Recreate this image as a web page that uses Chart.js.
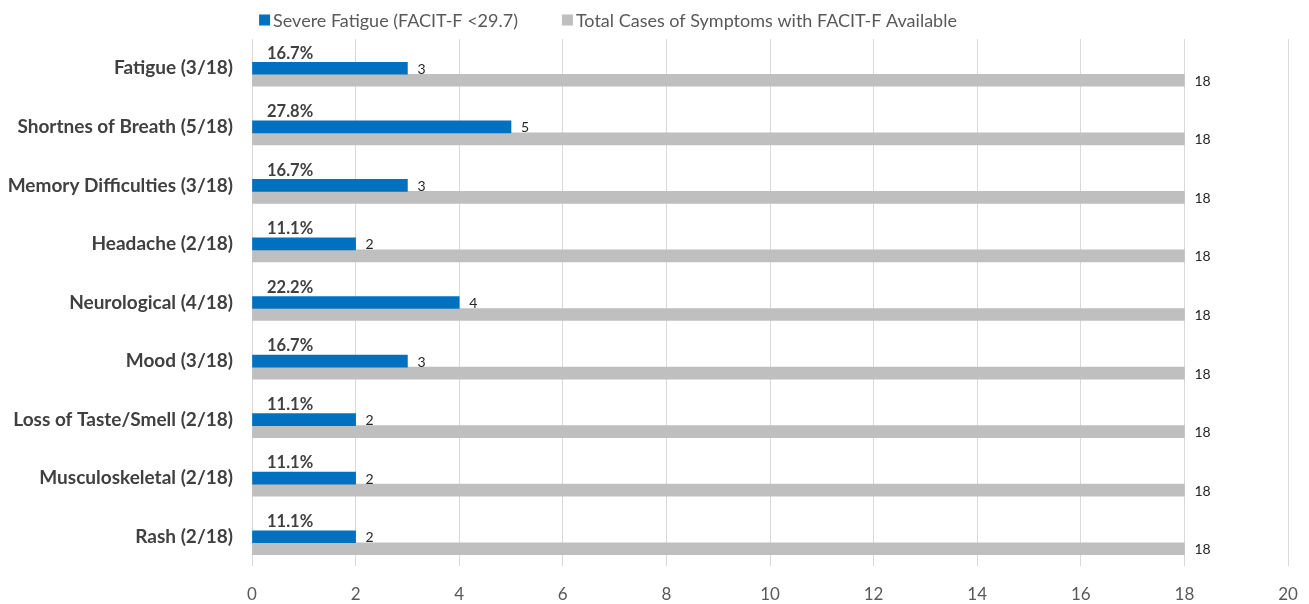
<!DOCTYPE html>
<html>
<head>
<meta charset="utf-8">
<script src="https://cdn.jsdelivr.net/npm/chart.js@4/dist/chart.umd.min.js"></script>
<style>
    html, body { margin: 0; padding: 0; background: #fff; }
    .chart-wrap { width: 1309px; height: 604px; position: relative; }
</style>
</head>
<body>
<div class="chart-wrap"><canvas id="symptomChart"></canvas></div>
<script>
// Chart data
const categories = ['Fatigue (3/18)', 'Shortnes of Breath (5/18)', 'Memory Difficulties (3/18)', 'Headache (2/18)',
    'Neurological (4/18)', 'Mood (3/18)', 'Loss of Taste/Smell (2/18)', 'Musculoskeletal (2/18)', 'Rash (2/18)'];
const severeFatigue = [3, 5, 3, 2, 4, 3, 2, 2, 2];
const totalCases = [18, 18, 18, 18, 18, 18, 18, 18, 18];
// % with severe fatigue - only shown as a label, the bar itself is invisible (as in the excel original)
const severePercent = [16.7, 27.8, 16.7, 11.1, 22.2, 16.7, 11.1, 11.1, 11.1];
const xTicks = [0, 2, 4, 6, 8, 10, 12, 14, 16, 18, 20];

const FONT = 'Lato, "Open Sans", sans-serif';
const TEXT = '#595959';

// Value labels at bar ends + bold percent labels
const barLabels = {
    id: 'barLabels',
    afterDatasetsDraw(chart) {
        const c = chart.ctx;
        const x0 = chart.scales.x.getPixelForValue(0);
        c.save();
        c.textBaseline = 'middle';
        c.textAlign = 'left';
        chart.data.datasets.forEach((ds, i) => {
            chart.getDatasetMeta(i).data.forEach((bar, j) => {
                if (ds.percentSeries) {
                    c.fillStyle = '#404040';
                    c.font = 'bold 16.5px ' + FONT;
                    c.fillText(ds.data[j].toFixed(1) + '%', x0 + 15, bar.y - 3);
                } else {
                    c.fillStyle = '#262626';
                    c.font = '14px ' + FONT;
                    c.fillText(ds.data[j], bar.x + 10, bar.y + 1);
                }
            });
        });
        c.restore();
    }
};

// Legend drawn by hand so spacing matches the original (small squares, wide gap)
const topLegend = {
    id: 'topLegend',
    afterDraw(chart) {
        const c = chart.ctx;
        const items = chart.data.datasets.filter(ds => !ds.percentSeries);
        const box = 11, textGap = 3, itemGap = 44, centerX = 608, y = 20;
        c.save();
        c.font = '18px ' + FONT;
        c.textBaseline = 'middle';
        c.textAlign = 'left';
        const widths = items.map(ds => box + textGap + c.measureText(ds.label).width);
        const total = widths.reduce((a, b) => a + b, 0) + itemGap * (items.length - 1);
        let x = centerX - total / 2;
        items.forEach((ds, i) => {
            c.fillStyle = ds.backgroundColor;
            c.fillRect(x, y - box / 2, box, box);
            c.fillStyle = TEXT;
            c.fillText(ds.label, x + box + textGap, y + 1);
            x += widths[i] + itemGap;
        });
        c.restore();
    }
};

const ctx = document.getElementById('symptomChart');
new Chart(ctx, {
    type: 'bar',
    data: {
        labels: categories,
        datasets: [
            {
                label: 'Severe Fatigue %',
                data: severePercent,
                backgroundColor: 'rgba(0,0,0,0)',
                barThickness: 12,
                percentSeries: true
            },
            {
                label: 'Severe Fatigue (FACIT-F <29.7)',
                data: severeFatigue,
                backgroundColor: '#0070c0',
                barThickness: 12
            },
            {
                label: 'Total Cases of Symptoms with FACIT-F Available',
                data: totalCases,
                backgroundColor: '#bfbfbf',
                barThickness: 12
            }
        ]
    },
    options: {
        indexAxis: 'y',
        responsive: true,
        maintainAspectRatio: false,
        animation: false,
        layout: { padding: { top: 39, right: 21, bottom: 0, left: 0 } },
        plugins: {
            tooltip: { enabled: false },
            legend: { display: false }
        },
        scales: {
            x: {
                min: 0,
                max: 20,
                afterBuildTicks: (scale) => { scale.ticks = xTicks.map(v => ({ value: v })); },
                afterFit: (scale) => {
                    scale.height = 38;
                    scale.paddingRight = 0;
                },
                grid: { color: '#d9d9d9', drawTicks: false },
                border: { display: false },
                ticks: { color: TEXT, padding: 18, font: { family: FONT, size: 17 } }
            },
            y: {
                grid: { display: false },
                border: { display: false },
                afterFit: (scale) => { scale.width = 252; },
                ticks: { color: '#404040', padding: 11, font: { family: FONT, size: 19, weight: 'bold' } }
            }
        }
    },
    plugins: [barLabels, topLegend]
});
</script>
</body>
</html>
